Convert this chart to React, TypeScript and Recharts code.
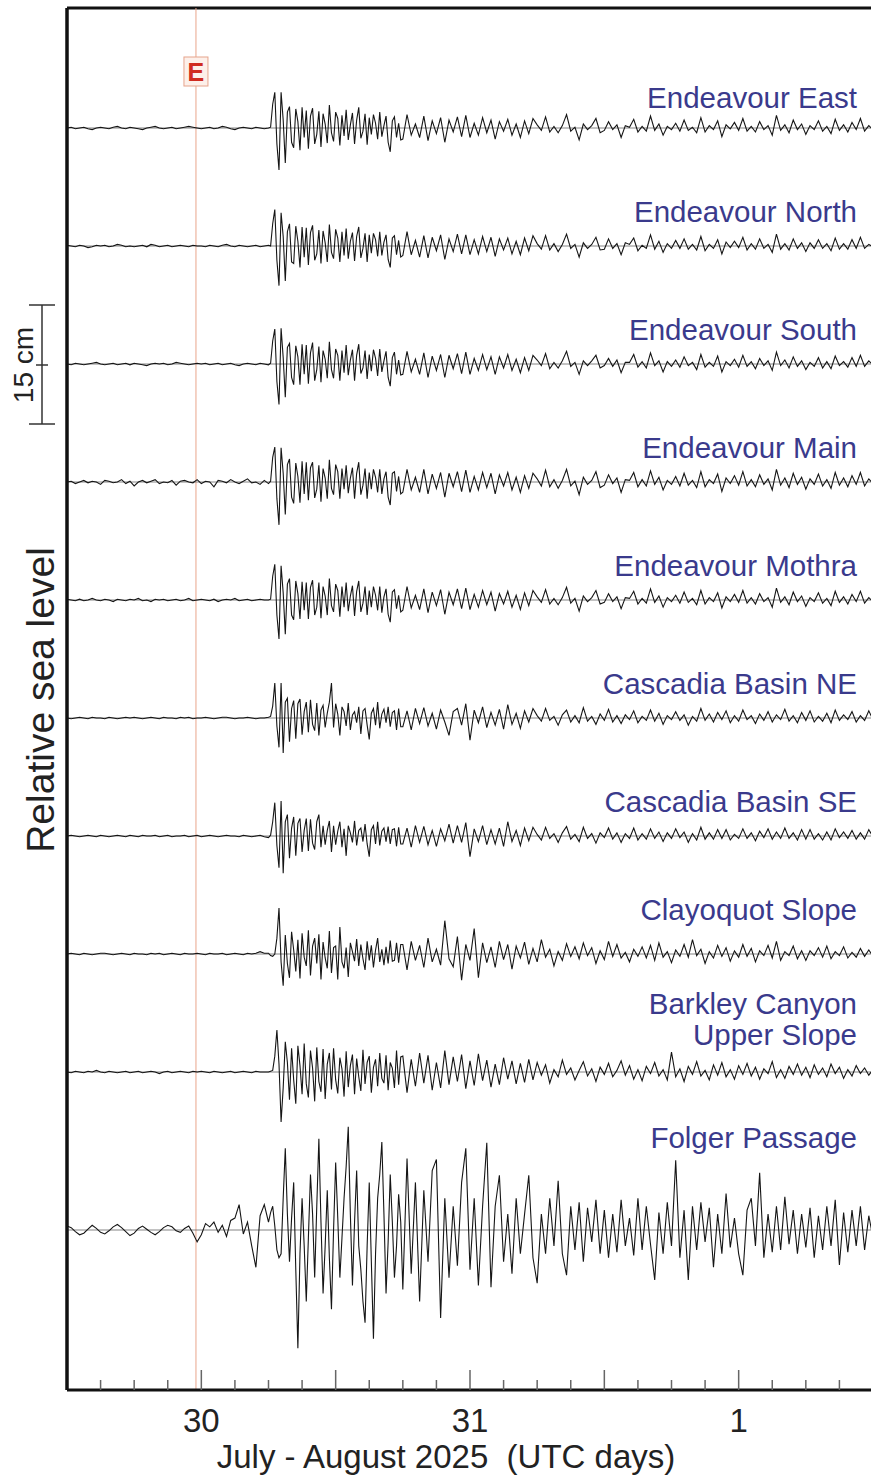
import { LineChart, Line, XAxis, YAxis, ReferenceLine } from 'recharts';

const FONT = '"Liberation Sans", Arial, Helvetica, sans-serif';

// Bottom pressure records converted to sea level (mm), detided.
// Time in July days (1 Aug = 32). Samples every 22.5 min, with 11.25 min
// sampling over the first half day after the tsunami front arrives.
const sampleTimes = [
  ...Array.from({ length: 48 }, (_, i) => 29.5 + i / 64),
  ...Array.from({ length: 64 }, (_, j) => 30.25 + j / 128),
  ...Array.from({ length: 113 }, (_, i) => 30.75 + i / 64),
];

const stationNames = [
  'Endeavour East',
  'Endeavour North',
  'Endeavour South',
  'Endeavour Main',
  'Endeavour Mothra',
  'Cascadia Basin NE',
  'Cascadia Basin SE',
  'Clayoquot Slope',
  'Barkley Canyon\nUpper Slope',
  'Folger Passage',
];

const endeavourEastMm = [
  0, 1, -1, 0, 1, -1, -2, 0, 1, 0, -1, 1, 2, 0, -1, 1,
  0, -1, -2, 0, 1, 2, 0, -1, 0, 1, -1, 0, 1, 2, 1, 0,
  -1, 0, 1, -1, 0, 2, 1, -1, -2, 0, 1, 0, -1, 1, 0, -1,
  0, 1, 30, 45, -20, -53, 45, 10, -44, 20, 27, -18, -25, 24, 8, -28,
  26, -12, 22, -26, 15, 25, -20, -8, 21, -24, 18, 5, -19, 29, -6, -17,
  20, 12, -22, 16, -10, 23, -15, 4, 19, -20, 10, 26, -13, -4, 18, -21,
  13, -8, 17, 6, -14, 20, -11, 3, 15, -18, -30, 9, 14, -12, 6, -15,
  -14, 17, -9, 5, -12, 15, -16, 9, -7, 13, -18, 10, -5, 14, -11, 16,
  -12, 6, -9, 13, -6, 10, -14, 8, -4, 11, -9, 5, -12, 9, -7, 12,
  4, -3, 14, -5, 2, -6, 3, 17, -4, 1, -15, 5, -2, 3, 12, -6,
  -3, 8, -2, 4, -12, 3, 1, 11, -5, 2, -4, 15, -3, 5, -9, 2,
  -2, 6, -4, 10, -3, 1, -6, 13, -5, 3, -2, 9, -11, 4, -1, 7,
  -3, 12, -4, 2, -5, 8, -2, 3, -9, 16, -3, 4, -6, 10, -2, 5,
  -8, 3, -2, 9, -4, 2, -7, 11, -3, 4, -5, 7, -2, 12, -4, 3,
  -2,
];

const endeavourNorthMm = [
  1, 0, -1, 1, 0, -2, -1, 1, 0, 1, -1, 0, 2, 1, -1, 0,
  -1, 0, 1, -1, 2, 1, -1, 0, 1, -1, 0, 1, 0, -1, 1, 0,
  0, -1, 1, 0, -1, 1, 2, 0, -1, 1, 0, -1, 0, 1, -1, 0,
  1, 0, 28, 46, -18, -50, 42, 12, -44, 18, 28, -20, -22, 25, 6, -27,
  24, -14, 23, -24, 17, 26, -18, -10, 20, -22, 19, 4, -20, 27, -8, -16,
  21, 10, -20, 18, -12, 22, -16, 6, 17, -19, 12, 24, -15, -3, 16, -20,
  14, -9, 16, 8, -13, 18, -12, 5, 14, -17, -27, 10, 13, -11, 7, -14,
  -12, 18, -11, 7, -14, 13, -15, 11, -6, 14, -17, 9, -7, 15, -10, 14,
  -11, 8, -10, 12, -7, 11, -13, 9, -5, 10, -10, 6, -11, 10, -6, 13,
  3, -4, 13, -5, 3, -7, 2, 15, -3, 2, -14, 4, -3, 2, 11, -5,
  -4, 9, -3, 3, -11, 4, 2, 10, -6, 1, -3, 14, -4, 6, -8, 3,
  -3, 7, -3, 9, -4, 2, -5, 12, -6, 2, -3, 8, -10, 5, -2, 6,
  -2, 11, -5, 3, -4, 9, -3, 2, -8, 15, -4, 3, -5, 9, -3, 4,
  -7, 4, -3, 8, -3, 3, -6, 10, -4, 3, -4, 8, -3, 11, -3, 2,
  -1,
];

const endeavourSouthMm = [
  0, -1, 1, 0, -1, 0, 1, 2, 0, -1, 0, 1, -1, 0, 1, -1,
  1, 0, -1, -2, 0, 1, 0, 1, -1, 0, 2, 1, 0, -1, 0, 1,
  0, 1, -1, 0, 1, -1, 0, 1, -1, -2, 0, 1, 0, -1, 1, 0,
  -1, 1, 29, 44, -22, -51, 45, 8, -42, 21, 26, -17, -26, 23, 9, -26,
  25, -13, 24, -25, 14, 27, -21, -7, 22, -23, 17, 6, -18, 28, -7, -18,
  19, 11, -21, 17, -11, 24, -14, 5, 18, -21, 11, 25, -12, -5, 17, -19,
  12, -9, 18, 7, -15, 19, -10, 4, 16, -17, -28, 8, 15, -13, 5, -14,
  -13, 16, -10, 6, -13, 14, -17, 10, -8, 12, -17, 11, -6, 13, -12, 15,
  -13, 7, -8, 12, -7, 9, -13, 9, -5, 12, -8, 6, -11, 8, -8, 11,
  5, -2, 13, -6, 2, -5, 4, 16, -3, 2, -13, 4, -2, 4, 11, -5,
  -2, 7, -3, 5, -11, 2, 2, 12, -4, 3, -5, 14, -2, 4, -10, 3,
  -3, 5, -4, 9, -2, 2, -7, 12, -4, 2, -3, 10, -10, 3, -2, 6,
  -4, 11, -3, 3, -6, 7, -2, 4, -8, 15, -2, 5, -5, 9, -3, 4,
  -7, 2, -3, 8, -5, 3, -6, 10, -2, 3, -4, 8, -3, 11, -3, 4,
  -1,
];

const endeavourMainMm = [
  0, 1, -2, 0, 2, -1, 1, 0, -3, 2, 1, -1, 0, 3, -2, 1,
  -5, 0, 2, -1, 1, 3, -2, 0, -1, 2, -4, 1, 2, 0, -1, 3,
  -2, 1, 0, -6, 2, 1, -1, 3, 0, -2, 1, 4, -1, 0, -3, 2,
  -2, 1, 31, 44, -21, -54, 43, 11, -41, 22, 29, -19, -27, 24, 7, -26,
  26, -15, 25, -23, 18, 25, -20, -9, 21, -25, 17, 5, -21, 28, -8, -16,
  22, 13, -21, 17, -9, 21, -14, 5, 18, -21, 11, 25, -16, -4, 17, -21,
  12, -9, 16, 6, -13, 16, -15, 4, 13, -19, -29, 11, 13, -12, 7, -15,
  -13, 16, -10, 6, -13, 16, -15, 10, -8, 12, -19, 11, -6, 13, -12, 15,
  -13, 7, -10, 12, -7, 11, -15, 9, -5, 12, -10, 6, -13, 8, -8, 11,
  4, -5, 15, -6, 3, -8, 2, 16, -5, 1, -16, 6, -3, 2, 13, -7,
  -4, 9, -2, 5, -13, 3, 2, 12, -6, 3, -5, 14, -3, 6, -10, 2,
  -3, 7, -5, 11, -4, 2, -7, 13, -6, 3, -2, 10, -12, 5, -2, 8,
  -4, 13, -5, 3, -6, 9, -3, 4, -10, 16, -4, 5, -7, 11, -3, 6,
  -9, 4, -3, 10, -5, 3, -8, 12, -4, 5, -6, 8, -3, 12, -5, 4,
  -2,
];

const endeavourMothraMm = [
  1, 0, -1, 1, -1, 0, 2, 0, -1, 1, 0, -2, 1, 0, -1, 1,
  0, 2, -1, 0, -2, 1, 0, 1, -1, 0, 1, -1, 0, 2, -1, 0,
  1, 0, -1, 1, -2, 0, 1, 0, 2, -1, 0, 1, -1, 0, 1, 0,
  0, 1, 30, 45, -19, -49, 43, 9, -43, 20, 27, -19, -25, 24, 8, -24,
  23, -13, 22, -24, 16, 25, -19, -9, 22, -23, 17, 5, -19, 27, -7, -15,
  20, 12, -21, 17, -9, 22, -14, 5, 18, -20, 11, 24, -15, -4, 17, -19,
  12, -9, 17, 6, -13, 17, -16, 4, 14, -18, -28, 10, 13, -11, 6, -15,
  -13, 17, -10, 6, -12, 14, -16, 10, -7, 13, -18, 10, -6, 14, -11, 15,
  -12, 7, -9, 12, -6, 10, -14, 8, -5, 11, -9, 6, -12, 9, -7, 12,
  4, -3, 13, -5, 2, -6, 3, 16, -4, 2, -14, 5, -2, 3, 12, -5,
  -3, 8, -2, 4, -11, 3, 2, 11, -5, 2, -4, 14, -3, 5, -9, 3,
  -2, 6, -4, 10, -3, 2, -6, 12, -5, 3, -2, 9, -10, 4, -2, 7,
  -3, 12, -4, 3, -5, 8, -2, 3, -9, 15, -3, 4, -6, 10, -2, 5,
  -8, 3, -2, 9, -4, 2, -7, 11, -3, 4, -5, 7, -2, 11, -4, 3,
  -2,
];

const cascadiaNeMm = [
  0, -1, 0, 1, 0, -1, 1, 0, 0, -1, 1, 0, -1, 0, 1, 0,
  1, 0, -1, 0, 1, 0, -1, 1, 0, 0, -1, 1, 0, 1, -1, 0,
  0, 1, 0, -1, 0, 1, 1, 0, -1, 0, 0, 1, 0, -1, 0, 0,
  1, 2, 15, 44, -10, -37, 44, -44, 20, 25, -30, 12, 22, -26, 18, 24,
  -21, 8, 20, -18, 23, -8, -16, 19, -22, 10, 16, -12, 6, 20, 44, -12,
  18, 5, -22, 14, 8, -10, 19, -15, 4, 8, -6, 14, -20, 9, 12, -9,
  -27, 6, 12, -9, 20, -13, 5, 11, -6, 14, -11, 7, 9, -15, 12, -11,
  -11, 9, -15, 12, -7, 13, -10, 6, -14, 10, -5, -22, 8, 12, -9, 18,
  -28, 10, -6, 14, -12, 7, -9, 11, -14, 17, -8, 6, -13, 9, -5, 12,
  3, -4, 12, -3, 2, -9, 4, 10, -5, 3, -6, 13, -4, 2, -8, 5,
  -3, 11, -5, 3, -7, 4, -2, 9, -6, 2, -3, 10, -4, 6, -8, 3,
  -2, 8, -3, 4, -9, 2, -4, 12, -3, 5, -5, 7, -2, 9, -6, 3,
  -4, 10, -2, 3, -7, 5, -3, 8, -5, 4, -2, 11, -4, 3, -6, 7,
  -3, 9, -5, 2, -4, 6, -6, 10, -3, 4, -2, 8, -5, 3, -3, 9,
  -2,
];

const cascadiaSeMm = [
  0, 1, 0, -1, 0, 1, 0, -1, 1, 0, -1, 0, 1, 0, -1, 1,
  0, -1, 1, 0, 0, 1, -1, 0, 1, -1, 0, 0, 1, -1, 0, 1,
  -1, 0, 1, 0, -1, 0, 1, 0, 0, -1, 1, 0, -1, 0, 1, -1,
  -2, 1, 18, 42, -12, -40, 44, -47, 18, 27, -28, 10, 24, -25, 16, 22,
  -20, 7, 22, -19, 21, -9, -17, 18, 27, -14, 13, -11, 7, 19, -20, 13,
  -11, 6, 18, -14, 9, -25, 13, 4, -8, 19, -12, 7, 10, -7, 15, -10,
  -26, 8, 13, -10, 18, -12, 6, 10, -7, 12, -10, 8, 9, -13, 11, -10,
  -10, 10, -14, 13, -8, 12, -11, 7, -13, 9, -6, 15, -9, 13, -8, 17,
  -26, 9, -7, 13, -11, 8, -10, 10, -13, 18, -7, 7, -12, 10, -6, 11,
  2, -5, 11, -3, 3, -8, 4, 12, -4, 2, -7, 11, -3, 3, -9, 4,
  -2, 10, -4, 4, -8, 3, -3, 10, -5, 3, -4, 9, -3, 5, -7, 4,
  -3, 9, -2, 5, -8, 3, -5, 11, -4, 4, -4, 8, -3, 8, -5, 2,
  -3, 9, -3, 4, -6, 6, -2, 9, -4, 5, -3, 10, -3, 4, -5, 8,
  -4, 8, -4, 3, -5, 5, -5, 9, -2, 5, -3, 7, -4, 4, -4, 8,
  -1,
];

const clayoquotMm = [
  0, 1, 0, -1, 1, 0, -1, 0, 1, 1, 0, -1, 0, 1, 0, -1,
  1, 0, 0, -1, 1, 0, 1, -1, 0, 1, 0, -1, 1, 0, 0, 1,
  0, -1, 1, 0, 0, 1, -1, 0, 1, 0, -1, 1, 0, 1, 3, 1,
  1, -2, -3, 0, 20, 58, -10, -40, 24, -12, -30, 28, 5, -22, 18, -31,
  26, -4, -15, 30, -27, 10, 20, -12, 25, -32, 15, -5, -18, 29, -24, 8,
  10, -32, 34, -10, -18, 8, -29, 14, 3, -9, 19, -15, 12, -6, -20, 16,
  -8, 11, -17, 5, 20, -10, 6, -14, 9, -12, 17, -9, -8, 14, -11, 12,
  12, -20, 16, -8, 11, -17, 20, -10, 6, -14, 42, -6, -16, 22, -33, 12,
  -8, 32, -30, 14, -11, 9, -17, 16, -7, 12, -19, 10, -5, 15, -13, 7,
  -10, 18, -4, 6, -15, 3, -8, 13, -3, 9, -6, 14, -2, 8, -12, 4,
  -7, 16, -3, 12, -5, 2, -10, 6, -3, 9, -5, 11, -8, 14, -4, 3,
  -11, 5, -3, 12, -4, 18, -2, 6, -12, 3, -5, 11, -3, 8, -9, 4,
  -4, 12, -3, 7, -10, 4, -2, 11, -5, 16, -8, 3, -2, 10, -6, 4,
  -8, 4, -2, 8, -4, 10, -6, 3, -2, 9, -5, 2, -4, 7, -3, 5,
  -3,
];

const barkleyMm = [
  0, -1, 1, 0, -1, 1, 0, 2, 0, -1, 1, 0, -1, 0, 1, -1,
  0, 1, -1, 0, 1, 0, -2, 0, 1, -1, 0, 1, 0, -1, 1, 0,
  1, 0, -1, 1, 0, -1, 0, 1, -1, 0, 1, 0, -1, 1, 0, 0,
  0, 1, 2, 20, 53, 10, -63, -20, 38, 12, -35, 30, -10, -40, 33, 8,
  -28, 36, -15, -32, 27, 5, -37, 31, -12, -25, 29, -34, 10, 24, -22, 30,
  -10, -27, 18, 4, -31, 26, -19, 8, 22, -28, 17, -6, -24, 28, -15, 12,
  20, -26, 6, 16, -18, 24, -8, -14, 21, -23, 12, 5, -20, 27, -16, 19,
  20, -26, 16, -18, 24, -14, 21, -23, 12, -20, 27, -16, 19, -12, 22, -21,
  14, -17, 23, -11, 15, -19, 10, -16, 18, -9, 14, -15, 11, -13, 16, -10,
  12, -4, 9, -14, 3, -6, 15, -3, 5, -10, 2, 13, -5, 4, -12, 6,
  -3, 11, -6, 2, 14, -4, 8, -9, 3, -11, 7, -2, 12, -5, 3, -10,
  25, -6, 4, -12, 7, -3, 13, -5, 2, -10, 9, -4, 12, -6, 3, -9,
  8, -3, 11, -5, 6, -9, 4, -2, 13, -7, 3, -8, 7, -3, 10, -4,
  6, -7, 9, -3, 5, -6, 10, -2, 6, -8, 3, -5, 8, -2, 5, -4,
  3,
];

const folgerMm = [
  5, 3, -2, -6, -4, 1, 6, 2, -3, -5, -1, 4, 7, 3, -2, -7,
  -4, 2, 5, 1, -3, -6, -2, 3, 6, 4, -1, -3, 2, 5, -4, -15,
  -6, 8, 4, 10, -3, 6, -8, 12, 15, 32, -5, 10, -20, -47, 18, 32,
  10, 22, 30, 5, -25, -35, -30, 40, 103, 20, -40, 15, 60, -50, -149, -30,
  40, -20, -90, -10, 70, 20, -60, 30, 115, 10, -80, -20, 50, -35, -100, 0,
  85, 15, -60, -10, 40, 80, 130, 20, -70, 10, 75, -20, -50, -90, -117, -20,
  60, -40, -137, -30, 40, 70, 111, 20, -80, -15, 70, 10, -60, -20, 45, 10,
  -75, 90, -55, 60, -90, 50, -40, 75, 89, -111, 40, -60, 30, -45, 60, 103,
  -50, 40, -70, 30, 110, -72, 30, 69, -40, 20, -55, 40, -30, 20, 69, -35,
  -67, 20, -30, 40, -20, 62, -30, -57, 30, -25, 35, -40, 28, -15, 38, -30,
  25, -35, 20, -28, 38, -20, 15, -32, 40, -25, 30, -18, -63, 22, -30, 35,
  -20, 88, -35, 25, -63, 30, -25, 35, -15, 28, -47, 20, -30, 46, -22, 15,
  -30, -57, 25, 40, -20, 72, -35, 20, -28, 30, -25, 42, -18, 25, -30, 20,
  -22, 28, -35, 18, -25, 30, -20, 38, -44, 22, -28, 25, -20, 30, -25, 18,
  -10,
];

const stationSeries = [
  endeavourEastMm,
  endeavourNorthMm,
  endeavourSouthMm,
  endeavourMainMm,
  endeavourMothraMm,
  cascadiaNeMm,
  cascadiaSeMm,
  clayoquotMm,
  barkleyMm,
  folgerMm,
];

// earthquake origin time, 29 July ~23:30 UTC
const quakeTime = 29.98;
const quakeLabel = 'E';

const dayTickValues = [30, 31, 32];
const dayTickLabels = ['30', '31', '1'];
const xAxisTitle = 'July - August 2025  (UTC days)';
const yAxisTitle = 'Relative sea level';
const scaleBarLabel = '15 cm';

// ---- layout ----
const WIDTH = 873;
const HEIGHT = 1482;
const PLOT_TOP = 8;
const X_AXIS_H = 92;
const Y_AXIS_W = 67;
const PLOT_H = HEIGHT - PLOT_TOP - X_AXIS_H;
const MM_PER_PX = 150 / 119; // 15 cm scale bar spans 119 px
const Y_MIN = -PLOT_H * MM_PER_PX;
const T_START = 29.5;
const T_END = 32.5;
const LABEL_LINE_H = 31;

// trace baselines (px below plot top) and label lift above each baseline
const traceBasePx = [120, 238, 356, 474, 592, 710, 828, 946, 1064, 1222];
const labelLiftPx = [20, 24, 24, 24, 24, 24, 24, 34, 27, 82];

const seriesKeys = stationNames.map((_, k) => `s${k}`);
const traceOffset = traceBasePx.map((px) => -px * MM_PER_PX);

const rows = sampleTimes.map((t, i) => {
  const row: Record<string, number> = { t };
  stationSeries.forEach((vals, k) => {
    row[seriesKeys[k]] = traceOffset[k] + vals[i];
  });
  return row;
});

// 3-hourly ticks, longer every 12 h
const tickTimes = Array.from({ length: 25 }, (_, k) => T_START + k / 8);

function TimeTick(props: any) {
  const { x, y, payload } = props;
  const v = payload.value as number;
  const hour = Math.round((v - Math.floor(v)) * 24);
  const len = hour % 12 === 0 ? 20 : 10;
  const idx = dayTickValues.indexOf(v);
  return (
    <g>
      {v > T_START && (
        <line x1={x} x2={x} y1={y} y2={y - len} stroke="#666" strokeWidth={1.5} />
      )}
      {idx >= 0 && (
        <text x={x} y={y + 42} textAnchor="middle" fontSize={33} fill="#222" fontFamily={FONT}>
          {dayTickLabels[idx]}
        </text>
      )}
    </g>
  );
}

const renderXTitle = () => (
  <text
    x={446}
    y={1468}
    textAnchor="middle"
    fontSize={33}
    fill="#222"
    fontFamily={FONT}
    style={{ whiteSpace: 'pre' }}
  >
    {xAxisTitle}
  </text>
);

// y title plus the vertical scale bar
const renderYSide = () => (
  <g>
    <text
      x={40}
      y={700}
      transform="rotate(-90 40 700)"
      textAnchor="middle"
      dominantBaseline="central"
      fontSize={39}
      fill="#222"
      fontFamily={FONT}
    >
      {yAxisTitle}
    </text>
    <g stroke="#333" strokeWidth={1.5}>
      <line x1={42} x2={42} y1={305} y2={424} />
      <line x1={29} x2={55} y1={305} y2={305} />
      <line x1={29} x2={55} y1={424} y2={424} />
      <line x1={36} x2={48} y1={365} y2={365} />
    </g>
    <text
      x={23}
      y={365}
      transform="rotate(-90 23 365)"
      textAnchor="middle"
      dominantBaseline="central"
      fontSize={28}
      fill="#222"
      fontFamily={FONT}
    >
      {scaleBarLabel}
    </text>
  </g>
);

const stationLabel = (name: string, lift: number) => (props: any) => {
  const vb = props.viewBox || {};
  const right = (vb.x ?? Y_AXIS_W) + (vb.width ?? WIDTH - Y_AXIS_W) - 16;
  const base = (vb.y ?? 0) - lift;
  const lines = name.split('\n');
  return (
    <text textAnchor="end" fill="#3a3a8c" fontFamily={FONT} fontSize={29.5}>
      {lines.map((ln, j) => (
        <tspan key={j} x={right} y={base - (lines.length - 1 - j) * LABEL_LINE_H}>
          {ln}
        </tspan>
      ))}
    </text>
  );
};

const quakeMarker = (props: any) => {
  const vb = props.viewBox || {};
  const x = vb.x ?? 197;
  const top = (vb.y ?? PLOT_TOP) + 49;
  return (
    <g>
      <rect x={x - 12} y={top} width={24} height={29} fill="#fdf0ea" stroke="#e6a48c" strokeWidth={1} />
      <text
        x={x}
        y={top + 24}
        textAnchor="middle"
        fontSize={25}
        fontWeight="bold"
        fill="#d02b20"
        fontFamily={FONT}
      >
        {quakeLabel}
      </text>
    </g>
  );
};

export default function App() {
  return (
    <div
      style={{
        position: 'fixed',
        left: 0,
        top: 0,
        width: 871,
        height: HEIGHT,
        overflow: 'hidden',
        background: '#fff',
      }}
    >
      <LineChart width={WIDTH} height={HEIGHT} data={rows} margin={{ top: PLOT_TOP, right: 0, bottom: 0, left: 0 }}>
        <XAxis
          dataKey="t"
          type="number"
          domain={[T_START, T_END]}
          allowDataOverflow
          ticks={tickTimes}
          interval={0}
          height={X_AXIS_H}
          tickSize={0}
          tickMargin={0}
          tickLine={false}
          tick={<TimeTick />}
          axisLine={{ stroke: '#111', strokeWidth: 3 }}
          label={renderXTitle}
        />
        <YAxis
          type="number"
          domain={[Y_MIN, 0]}
          allowDataOverflow
          width={Y_AXIS_W}
          tick={false}
          tickLine={false}
          axisLine={{ stroke: '#111', strokeWidth: 3.5 }}
          label={renderYSide}
        />
        <ReferenceLine y={0} stroke="#111" strokeWidth={3} />
        <ReferenceLine x={quakeTime} stroke="#eaa58b" strokeWidth={1} label={quakeMarker} />
        {traceOffset.map((y, k) => (
          <ReferenceLine
            key={`base-${k}`}
            y={y}
            stroke="#666"
            strokeWidth={0.8}
            label={stationLabel(stationNames[k], labelLiftPx[k])}
          />
        ))}
        {seriesKeys.map((key) => (
          <Line
            key={key}
            type="linear"
            dataKey={key}
            stroke="#151515"
            strokeWidth={1.1}
            dot={false}
            activeDot={false}
            isAnimationActive={false}
          />
        ))}
      </LineChart>
    </div>
  );
}
